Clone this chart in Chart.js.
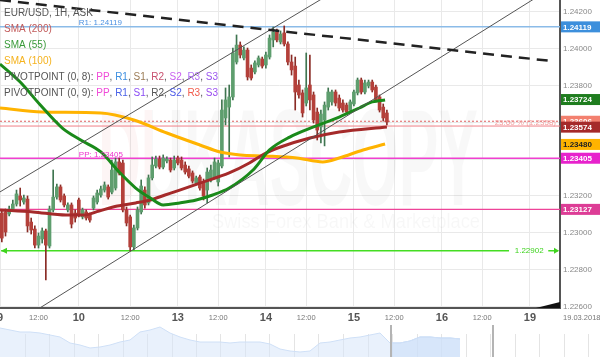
<!DOCTYPE html>
<html>
<head>
<meta charset="utf-8">
<script src="https://cdn.jsdelivr.net/npm/chart.js@4.4.1/dist/chart.umd.min.js"></script>
<style>
  html, body { margin: 0; padding: 0; background: #fff; }
  #wrap { position: relative; width: 600px; height: 357px; overflow: hidden; }
  #chartMain { position: absolute; left: 0; top: 0; }
  #chartNav { position: absolute; left: 0; top: 325px; }
</style>
</head>
<body>
<div id="wrap">
  <canvas id="chartMain" width="600" height="325"></canvas>
  <canvas id="chartNav" width="600" height="32"></canvas>
</div>
<script>
// EUR/USD, 1H, ASK - bougies horaires (une bougie = une heure)
const opens = [1.23107, 1.23113, 1.23102, 1.23129, 1.23156, 1.23200, 1.23167, 1.23183, 1.23058, 1.23020,
  1.22933, 1.22966, 1.23010, 1.22928, 1.23124, 1.23194, 1.23249, 1.23200, 1.23124, 1.23151,
  1.23107, 1.23178, 1.23086, 1.23113, 1.23096, 1.23134, 1.23167, 1.23205, 1.23232, 1.23249,
  1.23221, 1.23243, 1.23385, 1.23379, 1.23124, 1.23086, 1.22923, 1.23026, 1.23113, 1.23232,
  1.23162, 1.23298, 1.23363, 1.23401, 1.23357, 1.23390, 1.23395, 1.23352, 1.23406, 1.23395,
  1.23368, 1.23347, 1.23325, 1.23270, 1.23303, 1.23276, 1.23232, 1.23287, 1.23303, 1.23276,
  1.23363, 1.23624, 1.23683, 1.23738, 1.23928, 1.24020, 1.23950, 1.23993, 1.23895, 1.23874,
  1.23912, 1.23944, 1.23912, 1.23955, 1.24048, 1.24091, 1.24037, 1.24086, 1.24026, 1.23928,
  1.23906, 1.23803, 1.23760, 1.23705, 1.23803, 1.23749, 1.23656, 1.23575, 1.23613, 1.23683,
  1.23711, 1.23765, 1.23732, 1.23705, 1.23694, 1.23667, 1.23700, 1.23760, 1.23830, 1.23765,
  1.23798, 1.23819, 1.23792, 1.23738, 1.23683, 1.23651];
const highs = [1.23124, 1.23129, 1.23145, 1.23178, 1.23232, 1.23243, 1.23205, 1.23200, 1.23080, 1.23037,
  1.22999, 1.23026, 1.23020, 1.23145, 1.23341, 1.23265, 1.23260, 1.23211, 1.23162, 1.23162,
  1.23124, 1.23189, 1.23134, 1.23124, 1.23107, 1.23200, 1.23232, 1.23254, 1.23276, 1.23260,
  1.23395, 1.23406, 1.23406, 1.23395, 1.23140, 1.23096, 1.23042, 1.23140, 1.23287, 1.23249,
  1.23314, 1.23412, 1.23417, 1.23417, 1.23423, 1.23412, 1.23406, 1.23417, 1.23417, 1.23412,
  1.23385, 1.23363, 1.23336, 1.23308, 1.23314, 1.23292, 1.23352, 1.23368, 1.23406, 1.23395,
  1.23722, 1.23787, 1.23803, 1.24004, 1.24075, 1.24037, 1.24010, 1.24004, 1.23912, 1.23934,
  1.23961, 1.23955, 1.23982, 1.24075, 1.24118, 1.24107, 1.24097, 1.24124, 1.24037, 1.23966,
  1.23955, 1.23830, 1.23776, 1.23977, 1.23966, 1.23765, 1.23678, 1.23667, 1.23711, 1.23787,
  1.23776, 1.23776, 1.23749, 1.23722, 1.23705, 1.23722, 1.23776, 1.23841, 1.23841, 1.23830,
  1.23830, 1.23830, 1.23803, 1.23749, 1.23700, 1.23667];
const lows = [1.22950, 1.22982, 1.23091, 1.23118, 1.23145, 1.23145, 1.23156, 1.23004, 1.22993, 1.22917,
  1.22917, 1.22944, 1.22743, 1.22917, 1.23113, 1.23183, 1.23167, 1.23140, 1.23113, 1.23026,
  1.23058, 1.23086, 1.23075, 1.23069, 1.23058, 1.23124, 1.23156, 1.23194, 1.23221, 1.23183,
  1.23211, 1.23232, 1.23314, 1.23113, 1.23037, 1.22901, 1.22906, 1.23015, 1.23102, 1.23134,
  1.23151, 1.23287, 1.23352, 1.23347, 1.23347, 1.23379, 1.23330, 1.23341, 1.23368, 1.23341,
  1.23319, 1.23298, 1.23270, 1.23260, 1.23232, 1.23178, 1.23162, 1.23276, 1.23292, 1.23254,
  1.23352, 1.23586, 1.23412, 1.23722, 1.23917, 1.23950, 1.23939, 1.23830, 1.23830, 1.23863,
  1.23901, 1.23895, 1.23895, 1.23944, 1.24010, 1.24037, 1.24026, 1.24015, 1.23912, 1.23857,
  1.23667, 1.23732, 1.23629, 1.23689, 1.23667, 1.23596, 1.23504, 1.23488, 1.23472, 1.23667,
  1.23694, 1.23689, 1.23662, 1.23656, 1.23645, 1.23656, 1.23689, 1.23749, 1.23754, 1.23754,
  1.23787, 1.23765, 1.23711, 1.23656, 1.23607, 1.23586];
const closes = [1.22971, 1.23004, 1.23129, 1.23156, 1.23211, 1.23178, 1.23189, 1.23037, 1.23015, 1.22933,
  1.22982, 1.23010, 1.22933, 1.23129, 1.23194, 1.23249, 1.23178, 1.23151, 1.23151, 1.23047,
  1.23080, 1.23096, 1.23124, 1.23080, 1.23069, 1.23189, 1.23216, 1.23238, 1.23260, 1.23194,
  1.23341, 1.23385, 1.23325, 1.23124, 1.23053, 1.22923, 1.23026, 1.23124, 1.23254, 1.23151,
  1.23298, 1.23368, 1.23401, 1.23357, 1.23406, 1.23401, 1.23341, 1.23395, 1.23379, 1.23352,
  1.23330, 1.23308, 1.23281, 1.23298, 1.23243, 1.23200, 1.23330, 1.23341, 1.23385, 1.23379,
  1.23667, 1.23722, 1.23738, 1.23977, 1.24020, 1.23966, 1.23993, 1.23847, 1.23841, 1.23923,
  1.23950, 1.23906, 1.23966, 1.24058, 1.24091, 1.24048, 1.24080, 1.24026, 1.23928, 1.23885,
  1.23765, 1.23749, 1.23651, 1.23787, 1.23722, 1.23613, 1.23558, 1.23645, 1.23694, 1.23765,
  1.23765, 1.23705, 1.23678, 1.23667, 1.23656, 1.23711, 1.23765, 1.23830, 1.23765, 1.23814,
  1.23819, 1.23776, 1.23722, 1.23667, 1.23624, 1.23602];

// Moyennes mobiles (heure, valeur)
const sma200Hours = [0, 9, 18, 23, 27, 32, 37, 41, 45, 49, 54.5, 62.5, 68, 72, 76.5, 84.5, 92.5, 105.5];
const sma200 = [1.23124, 1.23113, 1.23096, 1.23096, 1.23118, 1.23145, 1.23162, 1.23178, 1.23205, 1.23232,
  1.23270, 1.23325, 1.23379, 1.23428, 1.23466, 1.23515, 1.23548, 1.23575];
const sma55Hours = [0, 5.5, 11, 17, 22, 27.5, 32.5, 37, 41, 44.5, 49, 53.5, 58, 62.5, 69, 73.5, 79, 85.5, 92.5, 98, 101.5, 105];
const sma55 = [1.23917, 1.23819, 1.23694, 1.23569, 1.23504, 1.23439, 1.23330, 1.23243, 1.23189, 1.23151, 1.23162,
  1.23178, 1.23205, 1.23243, 1.23341, 1.23450, 1.23520, 1.23575, 1.23629, 1.23678, 1.23711, 1.23722];
const sma100Hours = [0, 11.5, 27.5, 36.5, 45.5, 54.5, 60, 65.5, 72.5, 81, 88, 92.5, 99, 105];
const sma100 = [1.23678, 1.23656, 1.23651, 1.23613, 1.23542, 1.23477, 1.23439, 1.23423, 1.23417, 1.23406,
  1.23385, 1.23406, 1.23450, 1.23482];

// Lignes de tendance (heure, prix)
const resistHours = [0, 150.5];
const resistPrices = [1.24265, 1.23933];
const upperChHours = [0, 90];
const upperChPrices = [1.23222, 1.24298];
const lowerChHours = [8.2, 147.3];
const lowerChPrices = [1.22558, 1.24292];

// Niveaux horizontaux
const r1Level = 1.24119;
const ppLevel = 1.23405;
const s1Level = 1.23127;
const supportLevel = 1.22902;
const fibLevel = 1.2358;
const lastPrice = 1.23606;
const sma55Last = 1.23724;
const sma200Last = 1.23574;
const sma100Last = 1.23480;

// Axes
const tickHours = [0, 10.5, 21.5, 35.5, 48.5, 59.5, 72.5, 83.5, 96.5, 107.5, 120.5, 131.5, 144.5];
const tickLabels = ['9', '12:00', '10', '12:00', '13', '12:00', '14', '12:00', '15', '12:00', '16', '12:00', '19'];
const yTicks = [1.226, 1.228, 1.230, 1.232, 1.234, 1.236, 1.238, 1.240, 1.242];
const xMax = 152.7;
const yMin = 1.22591;
const yMax = 1.24265;

// Navigateur (apercu)
const navValues = [1.24719, 1.24531, 1.24344, 1.24344, 1.24250, 1.24063, 1.23875, 1.23313, 1.23125, 1.22844,
  1.22938, 1.23125, 1.23406, 1.23594, 1.24344, 1.24531, 1.24813, 1.24250, 1.23875, 1.23594,
  1.23406, 1.23406, 1.23406, 1.23313, 1.23406, 1.23406, 1.23406, 1.23219, 1.22750, 1.22563,
  1.22469, 1.22563, 1.23313, 1.23406, 1.23594, 1.23781, 1.23875, 1.24063, 1.24250, 1.23313,
  1.23313, 1.23500, 1.23875, 1.23875, 1.23781, 1.23781, 1.23688];
const navWindow = [39.1, 49.3];

const legendRows = [
  [['EUR/USD, 1H, ASK', '#555']],
  [['SMA (200)', '#c25a5a']],
  [['SMA (55)', '#3a9a3a']],
  [['SMA (100)', '#f5b21d']],
  [['PIVOTPOINT (0, 8): ', '#555'], ['PP', '#f04ad8'], [', ', '#555'], ['R1', '#3d8fe0'], [', ', '#555'],
   ['S1', '#9b7b55'], [', ', '#555'], ['R2', '#c8506e'], [', ', '#555'], ['S2', '#c85ef0'], [', ', '#555'],
   ['R3', '#b070f5'], [', ', '#555'], ['S3', '#9a55ee']],
  [['PIVOTPOINT (0, 9): ', '#555'], ['PP', '#f04ad8'], [', ', '#555'], ['R1', '#4a62e8'], [', ', '#555'],
   ['S1', '#8a4cf5'], [', ', '#555'], ['R2', '#555'], [', ', '#555'], ['S2', '#4c5ae8'], [', ', '#555'],
   ['R3', '#f25c4c'], [', ', '#555'], ['S3', '#9a4cf0']]
];

const tagValues = [r1Level, sma55Last, lastPrice, sma200Last, sma100Last, ppLevel, s1Level];
const tagColors = ['#3d8fdc', '#1f7d1f', '#f3806f', '#a52a2a', '#ffb300', '#e722cc', '#dd3d96'];
const tagTextColors = ['#fff', '#fff', '#fff', '#fff', '#222', '#fff', '#fff'];

Chart.defaults.font.family = 'Arial, "Liberation Sans", sans-serif';

const hours = opens.map((_, i) => i + 0.5);
const isUp = i => closes[i] >= opens[i];
const pts = (xs, ys) => xs.map((x, i) => ({ x, y: ys[i] }));

function levelLine(value, color, width, dash, order) {
  return {
    type: 'line', data: [{ x: 0, y: value }, { x: xMax, y: value }],
    borderColor: color, borderWidth: width, borderDash: dash || [],
    pointRadius: 0, order: order || 60
  };
}

function drawRuns(ctx, x, y, runs) {
  runs.forEach(([text, color]) => {
    ctx.fillStyle = color;
    ctx.fillText(text, x, y);
    x += ctx.measureText(text).width;
  });
}

const overlayPlugin = {
  id: 'overlay',
  beforeDatasetsDraw(chart) {
    const { ctx } = chart;
    // filigrane
    ctx.save();
    ctx.font = 'bold 138px Arial';
    ctx.textBaseline = 'alphabetic';
    ctx.save();
    ctx.beginPath(); ctx.rect(0, 0, 152, 308); ctx.clip();
    ctx.fillStyle = 'rgba(220, 50, 50, 0.05)';
    ctx.fillText('DUKASCOPY', 98, 205, 380);
    ctx.restore();
    ctx.beginPath(); ctx.rect(152, 0, 408, 308); ctx.clip();
    ctx.fillStyle = 'rgba(0, 0, 0, 0.028)';
    ctx.fillText('DUKASCOPY', 98, 205, 380);
    ctx.font = '21px Arial';
    ctx.fillStyle = 'rgba(0, 0, 0, 0.03)';
    ctx.fillText('Swiss Forex Bank & Marketplace', 212, 228, 268);
    ctx.restore();
  },
  afterDraw(chart) {
    const { ctx, chartArea, scales: { x, y } } = chart;
    ctx.save();

    // legende en haut a gauche
    ctx.font = '10px Arial';
    ctx.textBaseline = 'middle';
    ctx.textAlign = 'left';
    legendRows.forEach((runs, r) => drawRuns(ctx, 4, 13 + r * 16, runs));

    // etiquettes des niveaux
    ctx.font = '8px Arial';
    ctx.textBaseline = 'alphabetic';
    ctx.fillStyle = '#4a90e2';
    ctx.fillText('R1: ' + r1Level.toFixed(5), x.getPixelForValue(21.5), y.getPixelForValue(r1Level) - 1.5);
    ctx.fillStyle = '#ee33cc';
    ctx.fillText('PP: ' + ppLevel.toFixed(5), x.getPixelForValue(21.5), y.getPixelForValue(ppLevel) - 1.5);
    ctx.textAlign = 'right';
    ctx.textBaseline = 'middle';
    ctx.fillStyle = '#f4a0a0';
    ctx.fillText('23.60 % (' + fibLevel.toFixed(4) + ')', chartArea.right - 4, y.getPixelForValue(fibLevel) - 3);
    ctx.textAlign = 'center';
    ctx.fillStyle = '#3fd31f';
    const sy = y.getPixelForValue(supportLevel);
    ctx.fillText(supportLevel.toFixed(5), x.getPixelForValue(144.3), sy);
    // fleches
    ctx.beginPath();
    ctx.moveTo(chartArea.left + 1, sy); ctx.lineTo(chartArea.left + 7, sy - 3); ctx.lineTo(chartArea.left + 7, sy + 3);
    ctx.closePath(); ctx.fill();
    ctx.beginPath();
    ctx.moveTo(chartArea.right - 1, sy); ctx.lineTo(chartArea.right - 6, sy - 3); ctx.lineTo(chartArea.right - 6, sy + 3);
    ctx.closePath(); ctx.fill();

    // etiquettes a droite
    ctx.textAlign = 'left';
    ctx.font = 'bold 8px Arial';
    tagValues.forEach((v, i) => {
      const py = y.getPixelForValue(v);
      ctx.fillStyle = tagColors[i];
      ctx.fillRect(chartArea.right + 1, py - 5.5, 39, 11);
      ctx.fillStyle = tagTextColors[i];
      ctx.fillText(v.toFixed(5), chartArea.right + 3, py + 0.5);
    });

    // etiquettes de l'axe du temps
    const ly = chartArea.bottom + 10;
    tickHours.forEach((h, i) => {
      const lbl = tickLabels[i];
      const day = lbl.indexOf(':') < 0;
      ctx.font = day ? 'bold 11px Arial' : '7.5px Arial';
      ctx.fillStyle = day ? '#555' : '#777';
      ctx.textAlign = 'center';
      ctx.fillText(lbl, x.getPixelForValue(h), ly);
    });
    ctx.font = '7.5px Arial';
    ctx.fillStyle = '#777';
    ctx.textAlign = 'left';
    ctx.fillText('19.03.2018', chartArea.right + 3, ly);

    // petit triangle en bas a droite
    ctx.fillStyle = '#111';
    ctx.beginPath();
    ctx.moveTo(chartArea.right - 24, chartArea.bottom);
    ctx.lineTo(chartArea.right, chartArea.bottom - 6);
    ctx.lineTo(chartArea.right, chartArea.bottom);
    ctx.closePath(); ctx.fill();
    ctx.restore();
  }
};

new Chart(document.getElementById('chartMain'), {
  type: 'line',
  data: {
    datasets: [
      levelLine(r1Level, '#8bbbe8', 1.5),
      levelLine(ppLevel, '#f040d0', 1.5),
      levelLine(s1Level, '#ee4499', 1.2),
      levelLine(fibLevel, '#f08088', 1),
      levelLine(lastPrice, '#e06060', 1, [2, 2]),
      {
        type: 'line',
        data: [{ x: 0.3, y: supportLevel }, { x: 138.8, y: supportLevel }, { x: 139, y: null },
               { x: 149.5, y: supportLevel }, { x: 152.2, y: supportLevel }],
        borderColor: '#44dd22', borderWidth: 1.5, pointRadius: 0, spanGaps: false, order: 60
      },
      {
        type: 'bar', label: 'wicks', grouped: false, order: 40,
        data: hours.map((h, i) => ({ x: h, y: [lows[i], highs[i]] })),
        barThickness: 1, borderWidth: 0,
        backgroundColor: c => isUp(c.dataIndex) ? '#3f7550' : '#8a2c26'
      },
      {
        type: 'bar', label: 'bodies', grouped: false, order: 30,
        data: hours.map((h, i) => ({ x: h, y: [opens[i], closes[i]] })),
        barThickness: 3, borderWidth: 0,
        backgroundColor: c => isUp(c.dataIndex) ? '#5e9e6e' : '#b4403a'
      },
      { type: 'line', label: 'SMA (100)', data: pts(sma100Hours, sma100), borderColor: '#ffb300', borderWidth: 3,
        pointRadius: 0, cubicInterpolationMode: 'monotone', order: 22 },
      { type: 'line', label: 'SMA (200)', data: pts(sma200Hours, sma200), borderColor: '#a52a2a', borderWidth: 3,
        pointRadius: 0, cubicInterpolationMode: 'monotone', order: 21 },
      { type: 'line', label: 'SMA (55)', data: pts(sma55Hours, sma55), borderColor: '#1a8a1a', borderWidth: 3,
        pointRadius: 0, cubicInterpolationMode: 'monotone', order: 20 },
      { type: 'line', data: pts(upperChHours, upperChPrices), borderColor: '#555', borderWidth: 1, pointRadius: 0, order: 10 },
      { type: 'line', data: pts(lowerChHours, lowerChPrices), borderColor: '#555', borderWidth: 1, pointRadius: 0, order: 10 },
      { type: 'line', data: pts(resistHours, resistPrices), borderColor: '#222', borderWidth: 2.5,
        borderDash: [11, 7], pointRadius: 0, order: 5 }
    ]
  },
  options: {
    responsive: false,
    animation: false,
    events: [],
    layout: { padding: 0 },
    plugins: { legend: { display: false }, tooltip: { enabled: false } },
    scales: {
      x: {
        type: 'linear', min: 0, max: xMax, offset: false,
        grid: { color: '#e9e9e9', offset: false, drawTicks: false },
        border: { color: '#555', width: 2 },
        ticks: { display: false },
        afterBuildTicks: s => { s.ticks = tickHours.map(v => ({ value: v })); },
        afterFit: s => { s.height = 17; s.paddingLeft = 0; s.paddingRight = 0; }
      },
      y: {
        type: 'linear', position: 'right', min: yMin, max: yMax, beginAtZero: false,
        grid: { color: '#e9e9e9', drawTicks: false },
        border: { color: '#555', width: 2 },
        ticks: { color: '#888', font: { size: 8 }, padding: 3, callback: v => v.toFixed(5) },
        afterBuildTicks: s => { s.ticks = yTicks.map(v => ({ value: v })); },
        afterFit: s => { s.width = 40; s.paddingTop = 0; s.paddingBottom = 0; }
      }
    }
  },
  plugins: [overlayPlugin]
});

const navPlugin = {
  id: 'navDeco',
  beforeDatasetsDraw(chart) {
    const { ctx, chartArea, scales: { x } } = chart;
    ctx.save();
    ctx.strokeStyle = '#e4e4e4';
    ctx.lineWidth = 1;
    for (let v = 2.45; v < 60; v += 2.45) {
      const px = Math.round(x.getPixelForValue(v)) + 0.5;
      ctx.beginPath(); ctx.moveTo(px, chartArea.top + 9); ctx.lineTo(px, chartArea.bottom); ctx.stroke();
    }
    ctx.restore();
  },
  afterDatasetsDraw(chart) {
    const { ctx, chartArea, scales: { x } } = chart;
    ctx.save();
    ctx.fillStyle = '#b4b4b4';
    navWindow.forEach(v => {
      ctx.fillRect(Math.round(x.getPixelForValue(v)) - 1, chartArea.top, 2, chartArea.bottom - chartArea.top);
    });
    ctx.restore();
  }
};

new Chart(document.getElementById('chartNav'), {
  type: 'line',
  data: {
    datasets: [
      { data: navValues.map((v, k) => ({ x: k, y: v })), fill: 'start',
        backgroundColor: 'rgba(215, 230, 250, 0.55)', borderColor: '#cfe0f7', borderWidth: 1, pointRadius: 0 },
      { data: navValues.slice(39).map((v, k) => ({ x: k + 39, y: v })), fill: 'start',
        backgroundColor: 'rgba(190, 215, 248, 0.6)', borderColor: '#b9d2f3', borderWidth: 1, pointRadius: 0 }
    ]
  },
  options: {
    responsive: false,
    animation: false,
    events: [],
    layout: { padding: 0 },
    plugins: { legend: { display: false }, tooltip: { enabled: false } },
    scales: {
      x: { type: 'linear', display: false, min: 0, max: 60 },
      y: { display: false, min: 1.22, max: 1.25 }
    }
  },
  plugins: [navPlugin]
});
</script>
</body>
</html>
